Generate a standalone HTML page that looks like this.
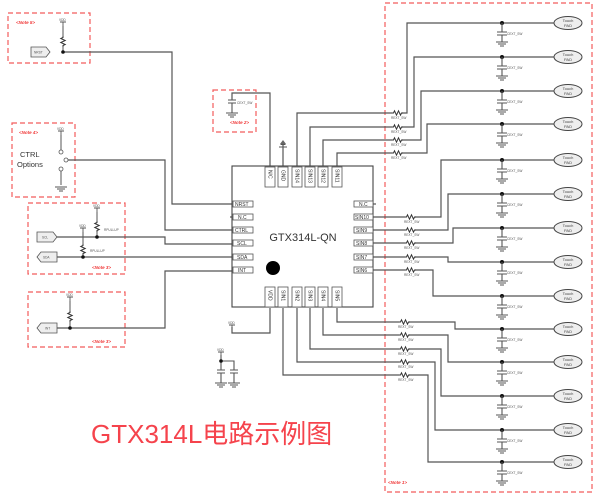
<!DOCTYPE html>
<html><head><meta charset="utf-8"><style>
html,body{margin:0;padding:0;background:#fff;width:600px;height:498px;overflow:hidden}
svg{display:block}
.w{fill:none;stroke:#555;stroke-width:1.2}
.bx{fill:none;stroke:#f25c5c;stroke-width:1.2;stroke-dasharray:5 3}
.nt{fill:#f03a3a;font:italic bold 4.5px "Liberation Sans",sans-serif}
.t{font-family:"Liberation Sans",sans-serif;fill:#333}
.pin{fill:#fff;stroke:#555;stroke-width:0.8}
.pl{font:5px "Liberation Sans",sans-serif;fill:#333}
.sm{font:3.2px "Liberation Sans",sans-serif;fill:#555}
</style></head><body>
<svg width="600" height="498" viewBox="0 0 600 498" xmlns="http://www.w3.org/2000/svg">
<defs>
<g id="rh"><rect x="-5" y="-2.5" width="10" height="5" fill="#fff"/><path d="M-5 0h1.5l1-2.2 2 4.4 2-4.4 2 4.4 1-2.2h1.5" fill="none" stroke="#333" stroke-width="1"/></g>
<g id="rv"><rect x="-2.5" y="-5" width="5" height="10" fill="#fff"/><path d="M0 -5v1.5l-2.2 1 4.4 2-4.4 2 4.4 2-2.2 1v1.5" fill="none" stroke="#333" stroke-width="1"/></g>
<g id="gnd"><path d="M-6 0h12M-4 2h8M-2 4h4" stroke="#555" stroke-width="1.1" fill="none"/></g>
<g id="cg"><circle r="2" fill="#111"/><path d="M0 0v9M-5 9h10M-5 12h10M0 12v7" stroke="#555" stroke-width="1.1" fill="none"/><use href="#gnd" y="19"/></g>
<g id="vdd"><path d="M-3 0h6M0 0v4" stroke="#555" stroke-width="0.9"/></g>
</defs>

<rect class="bx" x="8" y="13" width="82" height="50"/>
<rect class="bx" x="12" y="123" width="63" height="74"/>
<rect class="bx" x="28" y="203" width="97" height="71"/>
<rect class="bx" x="28" y="292" width="97" height="55"/>
<rect class="bx" x="213" y="90" width="43" height="42"/>
<rect class="bx" x="385" y="3" width="207" height="489"/>
<text class="nt" x="16" y="24">&lt;Note 5&gt;</text>
<text class="nt" x="19" y="134">&lt;Note 4&gt;</text>
<text class="nt" x="92" y="269">&lt;Note 3&gt;</text>
<text class="nt" x="92" y="343">&lt;Note 3&gt;</text>
<text class="nt" x="230" y="124">&lt;Note 2&gt;</text>
<text class="nt" x="388" y="484">&lt;Note 1&gt;</text>

<g class="w">
<path d="M297 167V113H407V23H556"/>
<path d="M310 167V127H414V57H556"/>
<path d="M323 167V140H421V91H556"/>
<path d="M337 167V153H427V124H556"/>
<path d="M373 217H441V160H556"/>
<path d="M373 230H448V194H556"/>
<path d="M373 243H453V228H556"/>
<path d="M373 257H448V262H556"/>
<path d="M373 270H433V296H556"/>
<path d="M337 308V322H455V329H556"/>
<path d="M323 308V335H448V362H556"/>
<path d="M310 308V349H441V396H556"/>
<path d="M297 308V362H435V430H556"/>
<path d="M283 308V375H428V462H556"/>
<path d="M270 167V93H232V100"/>
<path d="M283 167V142"/>
<path d="M270 308V333H232V327"/>
<path d="M63 52H172V204H233"/>
<path d="M68 160H165V230H233"/>
<path d="M57 237H165V244H233"/>
<path d="M57 257H233"/>
<path d="M57 328H165V271H233"/>
<path d="M373 204H376"/>
<path d="M233 217H230"/>
</g>
<use href="#rh" x="397" y="113"/><use href="#rh" x="397" y="127"/><use href="#rh" x="397" y="140"/><use href="#rh" x="397" y="153"/>
<use href="#rh" x="410" y="217"/><use href="#rh" x="410" y="230"/><use href="#rh" x="410" y="243"/><use href="#rh" x="410" y="257"/><use href="#rh" x="410" y="270"/>
<use href="#rh" x="404" y="322"/><use href="#rh" x="404" y="335"/><use href="#rh" x="404" y="349"/><use href="#rh" x="404" y="362"/><use href="#rh" x="404" y="375"/>
<g class="sm">
<text x="391" y="119">REXT_SW</text><text x="391" y="133">REXT_SW</text><text x="391" y="146">REXT_SW</text><text x="391" y="159">REXT_SW</text>
<text x="404" y="223">REXT_SW</text><text x="404" y="236">REXT_SW</text><text x="404" y="249">REXT_SW</text><text x="404" y="263">REXT_SW</text><text x="404" y="276">REXT_SW</text>
<text x="398" y="328">REXT_SW</text><text x="398" y="341">REXT_SW</text><text x="398" y="355">REXT_SW</text><text x="398" y="368">REXT_SW</text><text x="398" y="381">REXT_SW</text>
</g>

<g>
<use href="#cg" x="502" y="23"/><use href="#cg" x="502" y="57"/><use href="#cg" x="502" y="91"/><use href="#cg" x="502" y="124"/><use href="#cg" x="502" y="160"/><use href="#cg" x="502" y="194"/><use href="#cg" x="502" y="228"/><use href="#cg" x="502" y="262"/><use href="#cg" x="502" y="296"/><use href="#cg" x="502" y="329"/><use href="#cg" x="502" y="362"/><use href="#cg" x="502" y="396"/><use href="#cg" x="502" y="430"/><use href="#cg" x="502" y="462"/>
</g>
<g class="sm">
<text x="507" y="35">CEXT_SW</text><text x="507" y="69">CEXT_SW</text><text x="507" y="103">CEXT_SW</text><text x="507" y="136">CEXT_SW</text><text x="507" y="172">CEXT_SW</text><text x="507" y="206">CEXT_SW</text><text x="507" y="240">CEXT_SW</text><text x="507" y="274">CEXT_SW</text><text x="507" y="308">CEXT_SW</text><text x="507" y="341">CEXT_SW</text><text x="507" y="374">CEXT_SW</text><text x="507" y="408">CEXT_SW</text><text x="507" y="442">CEXT_SW</text><text x="507" y="474">CEXT_SW</text>
</g>
<g fill="#eee" stroke="#444" stroke-width="1">
<ellipse cx="568" cy="23" rx="14" ry="6.5"/><ellipse cx="568" cy="57" rx="14" ry="6.5"/><ellipse cx="568" cy="91" rx="14" ry="6.5"/><ellipse cx="568" cy="124" rx="14" ry="6.5"/><ellipse cx="568" cy="160" rx="14" ry="6.5"/><ellipse cx="568" cy="194" rx="14" ry="6.5"/><ellipse cx="568" cy="228" rx="14" ry="6.5"/><ellipse cx="568" cy="262" rx="14" ry="6.5"/><ellipse cx="568" cy="296" rx="14" ry="6.5"/><ellipse cx="568" cy="329" rx="14" ry="6.5"/><ellipse cx="568" cy="362" rx="14" ry="6.5"/><ellipse cx="568" cy="396" rx="14" ry="6.5"/><ellipse cx="568" cy="430" rx="14" ry="6.5"/><ellipse cx="568" cy="462" rx="14" ry="6.5"/>
</g>
<g font-family="Liberation Sans,sans-serif" font-size="4" fill="#444" text-anchor="middle">
<text x="568" y="22">Touch</text><text x="568" y="27">PAD</text>
<text x="568" y="56">Touch</text><text x="568" y="61">PAD</text>
<text x="568" y="90">Touch</text><text x="568" y="95">PAD</text>
<text x="568" y="123">Touch</text><text x="568" y="128">PAD</text>
<text x="568" y="159">Touch</text><text x="568" y="164">PAD</text>
<text x="568" y="193">Touch</text><text x="568" y="198">PAD</text>
<text x="568" y="227">Touch</text><text x="568" y="232">PAD</text>
<text x="568" y="261">Touch</text><text x="568" y="266">PAD</text>
<text x="568" y="295">Touch</text><text x="568" y="300">PAD</text>
<text x="568" y="328">Touch</text><text x="568" y="333">PAD</text>
<text x="568" y="361">Touch</text><text x="568" y="366">PAD</text>
<text x="568" y="395">Touch</text><text x="568" y="400">PAD</text>
<text x="568" y="429">Touch</text><text x="568" y="434">PAD</text>
<text x="568" y="461">Touch</text><text x="568" y="466">PAD</text>
</g>

<rect x="232" y="166" width="141" height="141" fill="#fff" stroke="#444" stroke-width="1.1"/>
<text class="t" x="303" y="241" font-size="11" text-anchor="middle" fill="#222">GTX314L-QN</text>
<circle cx="273" cy="268" r="7" fill="#000"/>
<g class="pin">
<rect x="265" y="167" width="10" height="20"/><rect x="278" y="167" width="10" height="20"/><rect x="292" y="167" width="10" height="20"/><rect x="305" y="167" width="10" height="20"/><rect x="318" y="167" width="10" height="20"/><rect x="332" y="167" width="10" height="20"/>
<rect x="265" y="287" width="10" height="20"/><rect x="278" y="287" width="10" height="20"/><rect x="292" y="287" width="10" height="20"/><rect x="305" y="287" width="10" height="20"/><rect x="318" y="287" width="10" height="20"/><rect x="332" y="287" width="10" height="20"/>
<rect x="233" y="201" width="20" height="6"/><rect x="233" y="214" width="20" height="6"/><rect x="233" y="227" width="20" height="6"/><rect x="233" y="240" width="20" height="6"/><rect x="233" y="254" width="20" height="6"/><rect x="233" y="267" width="20" height="6"/>
<rect x="354" y="201" width="19" height="6"/><rect x="354" y="214" width="19" height="6"/><rect x="354" y="227" width="19" height="6"/><rect x="354" y="240" width="19" height="6"/><rect x="354" y="254" width="19" height="6"/><rect x="354" y="267" width="19" height="6"/>
</g>
<g class="pl">
<text x="235" y="206">NRST</text><text x="238" y="219">N.C</text><text x="235" y="232">CTRL</text><text x="237" y="245">SCL</text><text x="237" y="259">SDA</text><text x="238" y="272">INT</text>
<text x="359" y="206">N.C</text><text x="355" y="219">SIN10</text><text x="356" y="232">SIN9</text><text x="356" y="245">SIN8</text><text x="356" y="259">SIN7</text><text x="356" y="272">SIN6</text>
</g>
<g class="pl" font-size="4.5">
<text transform="translate(268.5 170) rotate(90)">N/C</text><text transform="translate(281.5 170) rotate(90)">GND</text><text transform="translate(295.5 169) rotate(90)">SIN14</text><text transform="translate(308.5 169) rotate(90)">SIN13</text><text transform="translate(321.5 169) rotate(90)">SIN12</text><text transform="translate(335.5 169) rotate(90)">SIN11</text>
<text transform="translate(268.5 290) rotate(90)">VDD</text><text transform="translate(281.5 290) rotate(90)">SIN1</text><text transform="translate(295.5 290) rotate(90)">SIN2</text><text transform="translate(308.5 290) rotate(90)">SIN3</text><text transform="translate(321.5 290) rotate(90)">SIN4</text><text transform="translate(335.5 290) rotate(90)">SIN5</text>
</g>
<path d="M279 147h8M280.5 144.5h5M282 142h2" stroke="#555" stroke-width="1" fill="none"/>
<path d="M283 140l-3 4h6z" fill="#666"/>

<path d="M228 100h8M228 103h8M232 103v10" stroke="#555" stroke-width="1.1" fill="none"/>
<use href="#gnd" x="232" y="113"/>
<text class="sm" x="237" y="104">CEXT_SW</text>

<use href="#vdd" x="232" y="325"/><text class="sm" x="228" y="324">VDD</text>
<use href="#vdd" x="221" y="352"/><text class="sm" x="217" y="351">VDD</text>
<path d="M221 355v15M221 361h13v9M217 370h8M217 373h8M230 370h8M230 373h8M221 373v10M234 373v10" stroke="#555" stroke-width="1.1" fill="none"/>
<circle cx="221" cy="361" r="1.8" fill="#111"/>
<use href="#gnd" x="221" y="383"/><use href="#gnd" x="234" y="383"/>

<use href="#vdd" x="63" y="22"/><text class="sm" x="59" y="21">VDD</text>
<path d="M63 26v26" stroke="#555" fill="none"/><use href="#rv" x="63" y="41"/>
<circle cx="63" cy="52" r="1.8" fill="#111"/>
<path d="M31 47h15l4 5-4 5h-15z" fill="#eee" stroke="#555" stroke-width="0.8"/>
<text class="sm" x="34" y="53.5">NRST</text>

<use href="#vdd" x="61" y="131"/><text class="sm" x="57" y="130">VDD</text>
<path d="M61 135v15M61 171v14" stroke="#555" fill="none"/>
<circle cx="61" cy="152" r="2" fill="#fff" stroke="#555" stroke-width="0.8"/>
<circle cx="66" cy="160" r="2" fill="#fff" stroke="#555" stroke-width="0.8"/>
<circle cx="61" cy="169" r="2" fill="#fff" stroke="#555" stroke-width="0.8"/>
<use href="#gnd" x="61" y="187"/>
<text class="t" x="20" y="157" font-size="7.5">CTRL</text>
<text class="t" x="17" y="167" font-size="7.5">Options</text>

<use href="#vdd" x="97" y="208"/><text class="sm" x="93" y="207">VDD</text>
<path d="M97 212v25" stroke="#555" fill="none"/><use href="#rv" x="97" y="226"/>
<circle cx="97" cy="237" r="1.8" fill="#111"/>
<text class="sm" x="104" y="231">RPULLUP</text>
<use href="#vdd" x="83" y="228"/><text class="sm" x="79" y="227">VDD</text>
<path d="M83 232v25" stroke="#555" fill="none"/><use href="#rv" x="83" y="249"/>
<circle cx="83" cy="257" r="1.8" fill="#111"/>
<text class="sm" x="90" y="252">RPULLUP</text>
<path d="M37 232h16l4 5-4 5h-16z" fill="#eee" stroke="#555" stroke-width="0.8"/>
<text class="sm" x="42" y="238.5">SCL</text>
<path d="M41 252h16v10h-16l-4-5z" fill="#eee" stroke="#555" stroke-width="0.8"/>
<text class="sm" x="43" y="258.5">SDA</text>

<use href="#vdd" x="70" y="297"/><text class="sm" x="66" y="296">VDD</text>
<path d="M70 301v27" stroke="#555" fill="none"/><use href="#rv" x="70" y="316"/>
<circle cx="70" cy="328" r="1.8" fill="#111"/>
<path d="M41 323h16v10h-16l-4-5z" fill="#eee" stroke="#555" stroke-width="0.8"/>
<text class="sm" x="45" y="329.5">INT</text>

<text x="91" y="443" font-family="Liberation Sans,'Noto Sans CJK SC',sans-serif" font-size="26" fill="#f5434c">GTX314L电路示例图</text>
</svg>
</body></html>
